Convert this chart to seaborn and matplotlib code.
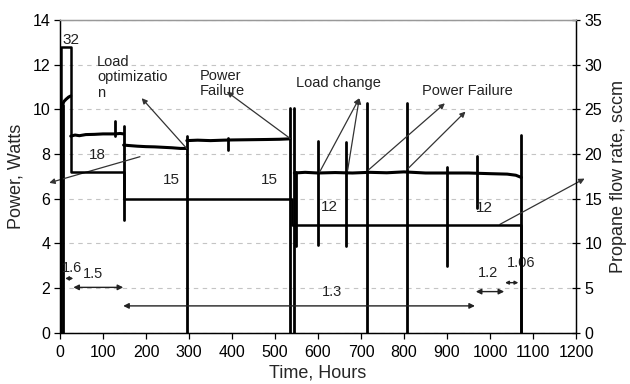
import numpy as np
import pandas as pd
import seaborn as sns
import matplotlib
matplotlib.use("Agg")
import matplotlib.pyplot as plt

# ---------------- data ----------------
# power trace (Watts), segments separated by id
power_seg = [1]*5 + [2]*10 + [3]*9 + [4]*9 + [5]*15
power_t = [6, 9, 14, 20, 25,
           25, 35, 45, 60, 80, 100, 120, 128, 140, 148,
           148, 160, 180, 200, 220, 240, 260, 280, 295,
           295, 320, 350, 380, 400, 440, 480, 510, 535,
           545, 570, 600, 640, 680, 720, 760, 800, 850, 900, 950, 1000, 1040, 1060, 1073]
power_w = [10.2, 10.35, 10.45, 10.55, 10.6,
           8.8, 8.85, 8.82, 8.87, 8.88, 8.9, 8.9, 8.9, 8.92, 8.9,
           8.4, 8.38, 8.35, 8.33, 8.32, 8.3, 8.28, 8.25, 8.25,
           8.6, 8.62, 8.6, 8.62, 8.63, 8.64, 8.65, 8.66, 8.68,
           7.15, 7.18, 7.15, 7.17, 7.15, 7.18, 7.16, 7.2, 7.15, 7.15, 7.15, 7.12, 7.1, 7.05, 6.95]

# propane flow rate (sccm) step trace
flow_t = [3, 3, 8, 8, 25, 25, 148, 148, 540, 540, 1073, 1073]
flow_q = [0, 32, 32, 32, 32, 18, 18, 15, 15, 12, 12, 0]

# vertical spikes in the power record: time, low, high (Watts)
spike_t = [8, 128, 148, 295, 390, 536, 544, 548, 600, 665, 713, 806, 901, 970, 1073]
spike_lo = [0, 8.8, 5.05, 0, 8.2, 0, 0, 3.9, 3.93, 3.9, 0, 0, 3.0, 5.6, 0]
spike_hi = [10.2, 9.5, 9.25, 8.8, 8.7, 10.05, 10.05, 7.2, 8.58, 8.55, 10.27, 10.27, 7.43, 7.9, 8.85]

flow_labels = ["32", "18", "15", "15", "12", "12"]
flow_label_t = [25, 88, 260, 488, 626, 988]
flow_label_w = [13.1, 7.95, 6.83, 6.83, 5.63, 5.58]

span_labels = ["1.6", "1.5", "1.3", "1.2", "1.06"]
span_label_t = [27, 76, 632, 995, 1072]
span_label_w = [2.9, 2.62, 1.84, 2.66, 3.1]
span_start = [12, 31, 147, 967, 1035]
span_end = [31, 147, 965, 1033, 1066]
span_w = [2.43, 2.03, 1.2, 1.84, 2.24]

xticks = list(range(0, 1300, 100))
yticks_left = list(range(0, 16, 2))
yticks_right = list(range(0, 40, 5))

# ---------------- figure ----------------
sns.set_theme(style="white")
plt.rcParams['font.family'] = ['Liberation Sans', 'DejaVu Sans']

fig = plt.figure(figsize=(6.3, 3.84), dpi=100)
ax = fig.add_axes([60/630, 1-332.7/384, (576-60)/630, (332.7-20)/384])
ax2 = ax.twinx()

# spikes as a long table
sp = pd.DataFrame({
    "t": np.repeat(spike_t, 2),
    "w": np.ravel(np.column_stack([spike_lo, spike_hi])),
    "id": np.repeat(np.arange(len(spike_t)), 2),
})
sns.lineplot(data=sp, x="t", y="w", units="id", estimator=None, sort=False,
             color="black", lw=2.0, ax=ax, legend=False)

pw = pd.DataFrame({"t": power_t, "w": power_w, "seg": power_seg})
sns.lineplot(data=pw, x="t", y="w", units="seg", estimator=None, sort=False,
             color="black", lw=2.2, ax=ax, legend=False)

fl = pd.DataFrame({"t": flow_t, "q": flow_q})
sns.lineplot(data=fl, x="t", y="q", estimator=None, sort=False,
             color="black", lw=1.8, ax=ax2, legend=False)

ax.set_xlim(0, 1200)
ax.set_ylim(0, 14)
ax2.set_ylim(0, 35)
ax.set_xticks(xticks)
ax.set_yticks(yticks_left)
ax2.set_yticks(yticks_right)

ax.yaxis.grid(True, color="#c4c4c4", lw=0.8, ls=(0, (4, 4)))
ax.xaxis.grid(False)
ax2.grid(False)

for a in (ax, ax2):
    for s in a.spines.values():
        s.set_color("black")
        s.set_linewidth(0.9)
    a.spines["top"].set_color("#999999")
ax.tick_params(axis="both", which="major", labelsize=11.5, colors="black",
               length=4, width=0.9, direction="out", pad=3)
ax.tick_params(axis="x", bottom=True, pad=5)
ax.tick_params(axis="y", left=True)
ax2.tick_params(axis="y", right=True, labelsize=11.5, length=6, width=0.9,
                direction="inout", pad=3, colors="black")

ax.set_xlabel("Time, Hours", fontsize=13, labelpad=3)
ax.set_ylabel("Power, Watts", fontsize=13, labelpad=6)
ax2.set_ylabel("Propane flow rate, sccm", fontsize=13, labelpad=6)

tc = "#222222"
fs = 10.5
for lab, t, w in zip(flow_labels, flow_label_t, flow_label_w):
    ax.text(t, w, lab, ha="center", va="center", fontsize=11, color=tc)
for lab, t, w in zip(span_labels, span_label_t, span_label_w):
    ax.text(t, w, lab, ha="center", va="center", fontsize=10.5, color=tc)

ax.text(86, 12.45, "Load\noptimizatio\nn", ha="left", va="top", fontsize=fs,
        color=tc, linespacing=1.15)
ax.text(325, 11.8, "Power\nFailure", ha="left", va="top", fontsize=fs,
        color=tc, linespacing=1.1)
ax.text(550, 11.16, "Load change", ha="left", va="center", fontsize=fs, color=tc)
ax.text(841, 10.83, "Power Failure", ha="left", va="center", fontsize=fs, color=tc)

ap = dict(arrowstyle="-|>", color="#333333", lw=0.9, mutation_scale=8,
          shrinkA=0, shrinkB=0)
arrows = [((294.6, 8.25), (190, 10.5)),
          ((535, 8.7), (388, 10.79)),
          ((186, 7.88), (-25, 6.71)),
          ((604, 7.2), (696, 10.5)),
          ((669, 7.28), (696, 10.5)),
          ((717, 7.28), (895, 10.27)),
          ((810, 7.36), (943, 9.9)),
          ((1023, 4.85), (1220, 6.9))]
for (tail, head) in arrows:
    ax.annotate("", xy=head, xytext=tail, arrowprops=ap, annotation_clip=False)

for s0, s1, w in zip(span_start, span_end, span_w):
    ms = 5 if (s1 - s0) < 40 else 8
    dp = dict(arrowstyle="<|-|>", color="#222222", lw=1.0, mutation_scale=ms,
              shrinkA=0, shrinkB=0)
    ax.annotate("", xy=(s1, w), xytext=(s0, w), arrowprops=dp)

fig.savefig("out.png", dpi=100)
